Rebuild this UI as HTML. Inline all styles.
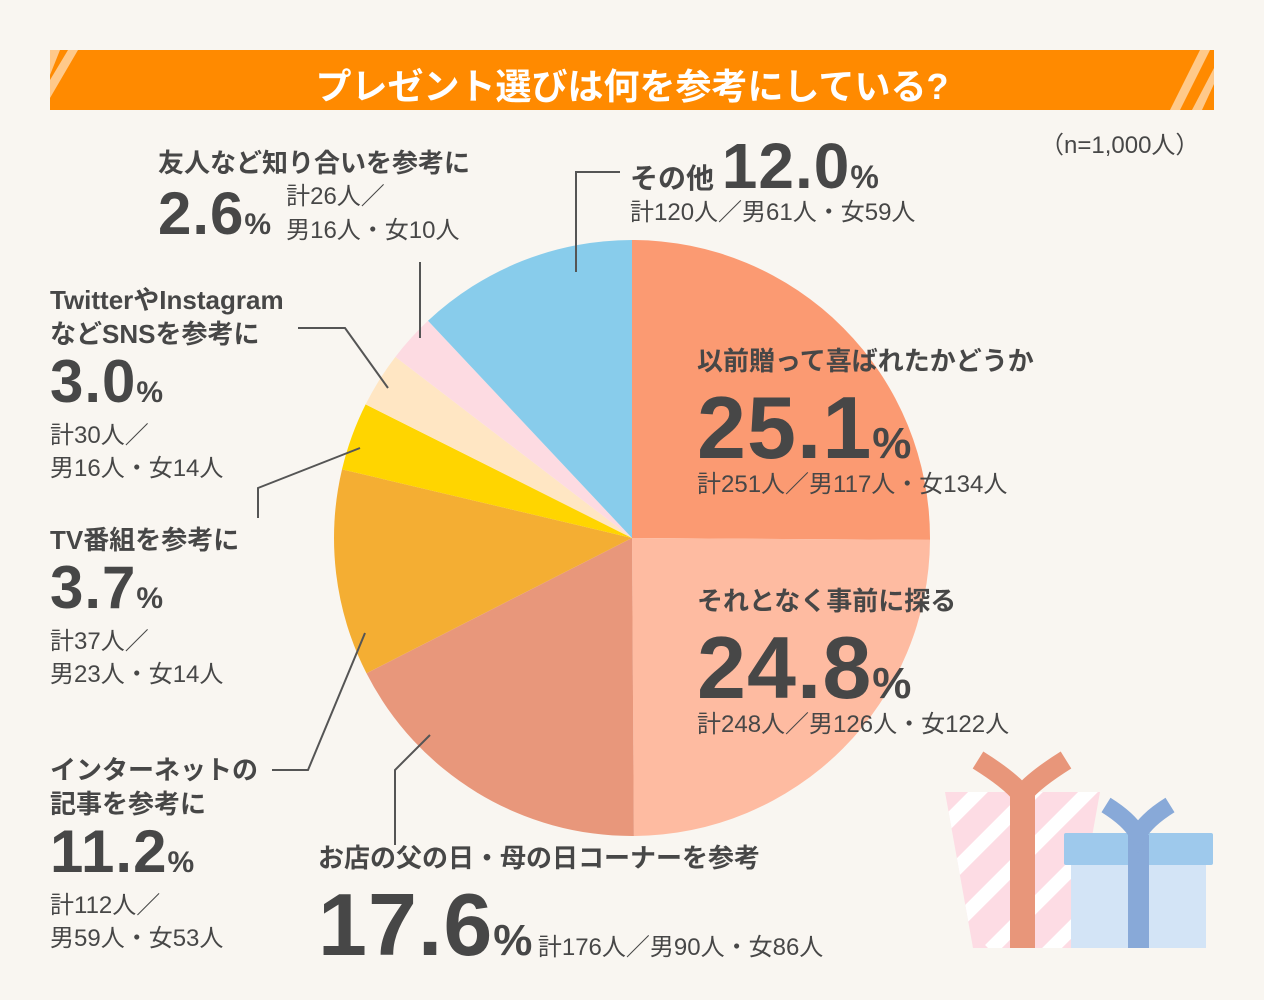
<!DOCTYPE html>
<html><head><meta charset="utf-8">
<style>
body{margin:0;width:1264px;height:1000px;background:#f9f6f1;position:relative;overflow:hidden;font-family:"Liberation Sans","Noto Sans CJK JP",sans-serif;color:#474747}
.a{position:absolute;white-space:nowrap}
.h{font-size:26px;font-weight:bold}
.s{font-size:24px}
.n{font-weight:bold;letter-spacing:1px}
.n small{font-size:0.5em;line-height:0}
</style></head><body>
<div class="a" style="left:50px;top:50px;width:1164px;height:60px;background:#ff8a00;overflow:hidden">
<svg width="1164" height="60" style="position:absolute;left:0;top:0"><polygon points="0,22 0,0 10,0 -14,60" fill="#ffc98a"/><polygon points="0,30 18,0 28,0 0,48" fill="#ffc98a"/><polygon points="1142,60 1164,18 1164,34 1152,60" fill="#ffc98a"/><polygon points="1120,60 1150,0 1160,0 1130,60" fill="#ffc98a"/></svg>
<div class="a" style="left:0;width:1164px;top:8px;text-align:center;color:#fff;font-size:36px;font-weight:bold">プレゼント選びは何を参考にしている?</div></div>
<div class="a s" style="left:1040px;top:125px">（n=1,000人）</div>
<svg class="a" style="left:0;top:0" width="1264" height="1000">
<g id="pie"></g>
<g stroke="#555" stroke-width="2" fill="none">
<polyline points="620,172 576,172 576,272"/>
<polyline points="420,262 420,338"/>
<polyline points="298,328 345,328 388,388"/>
<polyline points="258,518 258,488 360,448"/>
<polyline points="272,770 308,770 365,633"/>
<polyline points="395,845 395,770 430,735"/>
</g>
<g>
<polygon points="945,792 1100,792 1072,948 973,948" fill="#fddce4"/>
<g stroke="#fff" stroke-width="14" clip-path="url(#cp)"><line x1="930" y1="840" x2="990" y2="780"/><line x1="930" y1="895" x2="1040" y2="785"/><line x1="940" y1="940" x2="1100" y2="780"/><line x1="990" y1="950" x2="1110" y2="830"/><line x1="1040" y1="960" x2="1110" y2="890"/></g>
<clipPath id="cp"><polygon points="945,792 1100,792 1072,948 973,948"/></clipPath>
<rect x="1010" y="790" width="25" height="158" fill="#e8967a"/>
<path d="M978,760 Q1010,780 1022,795 Q1034,780 1066,760" stroke="#e8967a" stroke-width="20" fill="none"/>
<rect x="1071" y="865" width="135" height="83" fill="#d3e4f6"/>
<rect x="1064" y="833" width="149" height="32" rx="2" fill="#9ec9ec"/>
<rect x="1128" y="835" width="21" height="113" fill="#88a9d8"/>
<path d="M1106,805 Q1130,820 1138,835 Q1146,820 1170,805" stroke="#88a9d8" stroke-width="17" fill="none"/>
</g>
</svg>
<script>
const categories=["以前贈って喜ばれたかどうか","それとなく事前に探る","お店の父の日・母の日コーナーを参考","インターネットの記事を参考に","TV番組を参考に","TwitterやInstagramなどSNSを参考に","友人など知り合いを参考に","その他"];
const values=[25.1,24.8,17.6,11.2,3.7,3.0,2.6,12.0];
const colors=["#fb9a72","#febba1","#e8977b","#f4ae33","#ffd500","#ffe6c3","#fddbe2","#88cceb"];
const cx=632,cy=538,r=298;
const g=document.getElementById('pie');
const total=values.reduce((a,b)=>a+b,0);
let acc=0;
function pt(f){const t=f*2*Math.PI-Math.PI/2;return [cx+r*Math.cos(t),cy+r*Math.sin(t)];}
values.forEach((v,i)=>{
 const a=pt(acc/total),b=pt((acc+v)/total);acc+=v;
 const large=v/total>0.5?1:0;
 const p=document.createElementNS('http://www.w3.org/2000/svg','path');
 p.setAttribute('d',`M${cx},${cy}L${a[0]},${a[1]}A${r},${r} 0 ${large} 1 ${b[0]},${b[1]}Z`);
 p.setAttribute('fill',colors[i]);
 
 
 g.appendChild(p);
});
</script>
<div class="a" style="left:697px;top:344px">
<div class="h" style="line-height:34px">以前贈って喜ばれたかどうか</div>
<div class="n" style="font-size:88px;line-height:84px;height:84px;padding-top:8px">25.1<small>%</small></div>
<div class="s" style="line-height:30px">計251人／男117人・女134人</div></div>
<div class="a" style="left:697px;top:584px">
<div class="h" style="line-height:34px">それとなく事前に探る</div>
<div class="n" style="font-size:88px;line-height:84px;height:84px;padding-top:8px">24.8<small>%</small></div>
<div class="s" style="line-height:30px">計248人／男126人・女122人</div></div>
<div class="a" style="left:318px;top:838px">
<div class="h">お店の父の日・母の日コーナーを参考</div>
<div><span class="n" style="font-size:88px;line-height:100px">17.6<small>%</small></span> <span class="s">計176人／男90人・女86人</span></div></div>
<div class="a" style="left:50px;top:753px;line-height:34px">
<div class="h">インターネットの<br>記事を参考に</div>
<div class="n" style="font-size:60px;line-height:58px;height:66px;padding-top:2px">11.2<small>%</small></div>
<div class="s" style="line-height:33px">計112人／<br>男59人・女53人</div></div>
<div class="a" style="left:50px;top:523px;line-height:34px">
<div class="h">TV番組を参考に</div>
<div class="n" style="font-size:60px;line-height:58px;height:66px;padding-top:2px">3.7<small>%</small></div>
<div class="s" style="line-height:33px">計37人／<br>男23人・女14人</div></div>
<div class="a" style="left:50px;top:283px;line-height:34px">
<div class="h">TwitterやInstagram<br>などSNSを参考に</div>
<div class="n" style="font-size:60px;line-height:58px;height:66px;padding-top:2px">3.0<small>%</small></div>
<div class="s" style="line-height:33px">計30人／<br>男16人・女14人</div></div>
<div class="a" style="left:158px;top:143px">
<div class="h">友人など知り合いを参考に</div>
<div style="display:flex;align-items:center"><span class="n" style="font-size:60px;line-height:64px">2.6<small>%</small></span><span class="s" style="margin-left:14px;line-height:34px">計26人／<br>男16人・女10人</span></div></div>
<div class="a" style="left:630px;top:134px">
<div><span class="h" style="font-size:28px">その他 </span><span class="n" style="font-size:64px;line-height:64px">12.0<small>%</small></span></div>
<div class="s" style="margin-top:-6px">計120人／男61人・女59人</div></div>
</body></html>
